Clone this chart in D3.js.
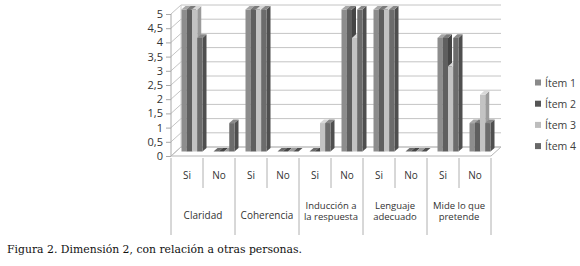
<!DOCTYPE html>
<html><head><meta charset="utf-8">
<script src="https://cdn.jsdelivr.net/npm/d3@7/dist/d3.min.js"></script>
<style>body{margin:0;background:#fff}svg{display:block}</style>
</head><body>
<svg id="c" width="580" height="266"></svg>
<script>
// ---- data ----
const groups = [["Claridad"], ["Coherencia"], ["Inducción a", "la respuesta"], ["Lenguaje", "adecuado"], ["Mide lo que", "pretende"]];
const answers = ["Si", "No"];
const seriesNames = ["Ítem 1", "Ítem 2", "Ítem 3", "Ítem 4"];
const item1 = [5, 0, 5, 0, 0, 5, 5, 0, 4, 1];
const item2 = [5, 0, 5, 0, 0, 5, 5, 0, 4, 1];
const item3 = [5, 0, 5, 0, 1, 4, 5, 0, 3, 2];
const item4 = [4, 1, 5, 0, 1, 5, 5, 0, 4, 1];
const yTicks = [0, 0.5, 1, 1.5, 2, 2.5, 3, 3.5, 4, 4.5, 5];
const caption = "Figura 2. Dimensión 2, con relación a otras personas.";

const series = [item1, item2, item3, item4];
const slots = [];
groups.forEach((g, gi) => answers.forEach(a => slots.push(gi + "-" + a)));

// ---- style ----
const frontCol = ["#8d8d8d", "#5f5f5f", "#c3c3c3", "#6c6c6c"];
const sideCol  = ["#6b6b6b", "#454545", "#9b9b9b", "#4f4f4f"];
const topCol   = ["#a8a8a8", "#7a7a7a", "#d8d8d8", "#898989"];
const legendCol = ["#8a8a8a", "#555555", "#bdbdbd", "#686868"];
const DX = 10, DY = -9;            // wall depth
const BFX = 5, BFY = -4.5;         // bar front offset
const BDX = 4, BDY = -3.6;         // bar depth
const axisFont = "'Open Sans', sans-serif";

const svg = d3.select("#c");
const x = d3.scaleBand().domain(slots).range([171, 491]);
const y = d3.scaleLinear().domain([0, 5]).range([156, 14]);
const clusterW = 21;
const xi = d3.scaleBand().domain(d3.range(series.length)).range([0, clusterW]);

const grid = svg.append("g");
grid.append("path")
  .attr("d", `M${x.range()[0]},${y(0)}L${x.range()[1]},${y(0)}L${x.range()[1]+DX},${y(0)+DY}L${x.range()[0]+DX},${y(0)+DY}Z`)
  .attr("fill", "#fff").attr("stroke", "#b5b5b5").attr("stroke-width", 1);
yTicks.forEach(v => {
  grid.append("path")
    .attr("d", `M${x.range()[0]},${y(v)}L${x.range()[0]+DX},${y(v)+DY}L${x.range()[1]+DX},${y(v)+DY}`)
    .attr("fill", "none").attr("stroke", "#c4c4c4").attr("stroke-width", 1);
});
grid.append("line").attr("x1", x.range()[0]+DX).attr("x2", x.range()[0]+DX)
  .attr("y1", y(5)+DY).attr("y2", y(0)+DY).attr("stroke", "#d0d0d0");
grid.append("line").attr("x1", x.range()[0]).attr("x2", x.range()[0])
  .attr("y1", y(5)).attr("y2", y(0)).attr("stroke", "#a8a8a8");

const yAxis = d3.axisLeft(y).tickValues(yTicks).tickSize(5).tickPadding(3)
  .tickFormat(d => String(d).replace(".", ","));
const ya = svg.append("g").attr("transform", `translate(${x.range()[0]},0)`).call(yAxis);
ya.select(".domain").remove();
ya.selectAll("line").attr("stroke", "#a8a8a8");
ya.selectAll("text").attr("font-family", axisFont).attr("font-size", 11).attr("fill", "#333");

const bars = svg.append("g");
slots.forEach((s, si) => {
  series.forEach((ser, k) => {
    const v = ser[si];
    const x0 = x(s) + (x.bandwidth() - clusterW) / 2 + xi(k) + BFX;
    const w = xi.bandwidth();
    const yb = y(0) + BFY, yt = y(v) + BFY;
    if (v > 0) {
      bars.append("path")
        .attr("d", `M${x0+w},${yt}L${x0+w+BDX},${yt+BDY}L${x0+w+BDX},${yb+BDY}L${x0+w},${yb}Z`)
        .attr("fill", sideCol[k]);
      bars.append("rect").attr("x", x0).attr("y", yt).attr("width", w).attr("height", yb - yt)
        .attr("fill", frontCol[k]);
    }
    bars.append("path")
      .attr("d", `M${x0},${yt}L${x0+w},${yt}L${x0+w+BDX},${yt+BDY}L${x0+BDX},${yt+BDY}Z`)
      .attr("fill", v > 0 ? topCol[k] : sideCol[k]);
  });
});

const cat = svg.append("g");
slots.forEach((s, si) => {
  const isGroupStart = si % 2 === 0;
  cat.append("line").attr("x1", x(s)).attr("x2", x(s)).attr("y1", y(0) + 2)
    .attr("y2", isGroupStart ? 235 : 188).attr("stroke", "#b0b0b0");
  cat.append("text").attr("x", x(s) + x.bandwidth() / 2).attr("y", 179)
    .attr("text-anchor", "middle").attr("font-family", axisFont).attr("font-size", 10)
    .attr("fill", "#333").text(answers[si % 2]);
});
cat.append("line").attr("x1", x.range()[1]).attr("x2", x.range()[1]).attr("y1", y(0) + 2)
  .attr("y2", 235).attr("stroke", "#b0b0b0");
groups.forEach((g, gi) => {
  const cx = x(gi + "-Si") + x.bandwidth();
  const y0 = g.length === 1 ? 219 : 208.5;
  g.forEach((line, li) => cat.append("text").attr("x", cx).attr("y", y0 + li * 11.5)
    .attr("text-anchor", "middle").attr("font-family", axisFont)
    .attr("font-size", g.length === 1 ? 10 : 9.5).attr("fill", "#333").text(line));
});

const lg = svg.append("g");
seriesNames.forEach((n, k) => {
  const cy = 83 + k * 21.2;
  lg.append("rect").attr("x", 535).attr("y", cy - 3.5).attr("width", 6).attr("height", 6).attr("fill", legendCol[k]);
  lg.append("text").attr("x", 545).attr("y", cy + 3.5).attr("font-family", axisFont)
    .attr("font-size", 10.5).attr("fill", "#404040").text(n);
});

svg.append("text").attr("x", 7).attr("y", 253).attr("font-family", "'DejaVu Serif', serif")
  .attr("font-size", 10.5).attr("fill", "#111").attr("textLength", 295)
  .attr("lengthAdjust", "spacingAndGlyphs").text(caption);
</script>
</body></html>
